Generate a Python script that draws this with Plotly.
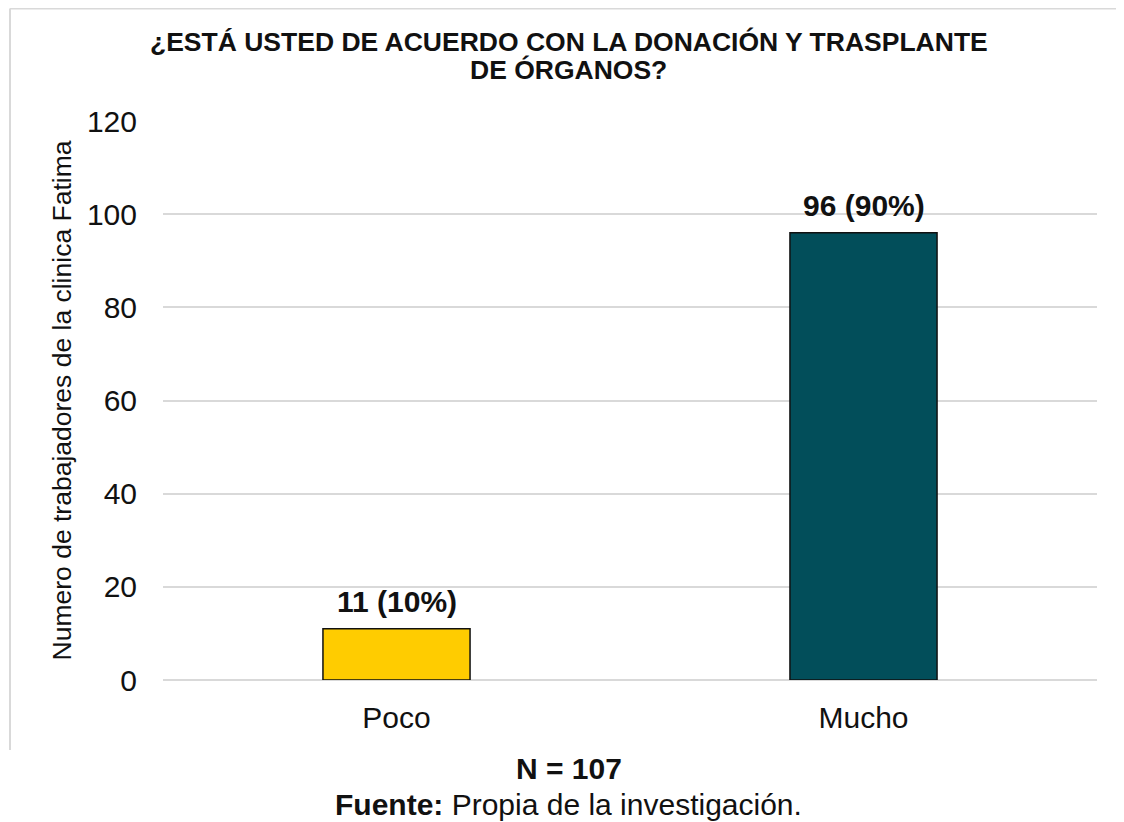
import plotly.graph_objects as go

categories = ["Poco", "Mucho"]
values = [11, 96]
percents = [10, 90]
colors = ["#FFCC00", "#024E5A"]
y_ticks = [0, 20, 40, 60, 80, 100, 120]
title_lines = ["¿ESTÁ USTED DE ACUERDO CON LA DONACIÓN Y TRASPLANTE", "DE ÓRGANOS?"]
y_title = "Numero de trabajadores de la clinica Fatima"
n_text = "<b>N = 107</b>"
source_text = "<b>Fuente:</b> Propia de la investigación."

FONT = "Arial, Liberation Sans, sans-serif"

fig = go.Figure()
fig.add_trace(go.Bar(
    x=categories, y=values,
    marker=dict(color=colors, line=dict(color="#111111", width=1.5)),
    width=0.315, hoverinfo="skip",
))

annotations = []
for c, v, p in zip(categories, values, percents):
    annotations.append(dict(x=c, y=v, xref="x", yref="y", text=f"<b>{v} ({p}%)</b>",
                            showarrow=False, yanchor="bottom", yshift=9,
                            font=dict(family=FONT, size=30, color="#111111")))

annotations += [
    dict(x=0.4342, y=1.1413, xref="paper", yref="paper", text=f"<b>{title_lines[0]}</b>",
         showarrow=False, xanchor="center", yanchor="middle",
         font=dict(family=FONT, size=26.5, color="#111111")),
    dict(x=0.4342, y=1.0912, xref="paper", yref="paper", text=f"<b>{title_lines[1]}</b>",
         showarrow=False, xanchor="center", yanchor="middle",
         font=dict(family=FONT, size=26.5, color="#111111")),
    dict(x=0.4342, y=-0.1592, xref="paper", yref="paper", text=n_text,
         showarrow=False, xanchor="center", yanchor="middle",
         font=dict(family=FONT, size=30, color="#111111")),
    dict(x=0.4342, y=-0.222, xref="paper", yref="paper", text=source_text,
         showarrow=False, xanchor="center", yanchor="middle",
         font=dict(family=FONT, size=30, color="#111111")),
]

# border (page offset of 8px from body margin accounted for)
shapes = [
    dict(type="line", xref="paper", yref="paper", x0=-0.1638, x1=1.05, y0=1.2012, y1=1.2012,
         line=dict(color="#D9D9D9", width=2), layer="below"),
    dict(type="line", xref="paper", yref="paper", x0=-0.1638, x1=-0.1638, y0=1.2012, y1=-0.1252,
         line=dict(color="#D9D9D9", width=2), layer="below"),
]

fig.update_layout(
    width=1116, height=814,
    margin=dict(l=155, r=27, t=113, b=142),
    paper_bgcolor="white", plot_bgcolor="white",
    showlegend=False,
    font=dict(family=FONT, color="#111111"),
    annotations=annotations,
    shapes=shapes,
    xaxis=dict(
        showgrid=False, showline=False, zeroline=False,
        ticks="outside", ticklen=11, tickcolor="rgba(0,0,0,0)",
        tickfont=dict(family=FONT, size=30, color="#111111"),
        fixedrange=True,
    ),
    yaxis=dict(
        range=[0, 120], tickvals=y_ticks,
        showgrid=True, gridcolor="#D9D9D9", gridwidth=1.5,
        zeroline=True, zerolinecolor="#D9D9D9", zerolinewidth=1.5,
        showline=False,
        ticks="outside", ticklen=19, tickcolor="rgba(0,0,0,0)",
        tickfont=dict(family=FONT, size=30, color="#111111"),
        title=dict(text=y_title, font=dict(family=FONT, size=26.5, color="#111111"), standoff=7),
        fixedrange=True,
    ),
)

fig.write_html("out.html")
